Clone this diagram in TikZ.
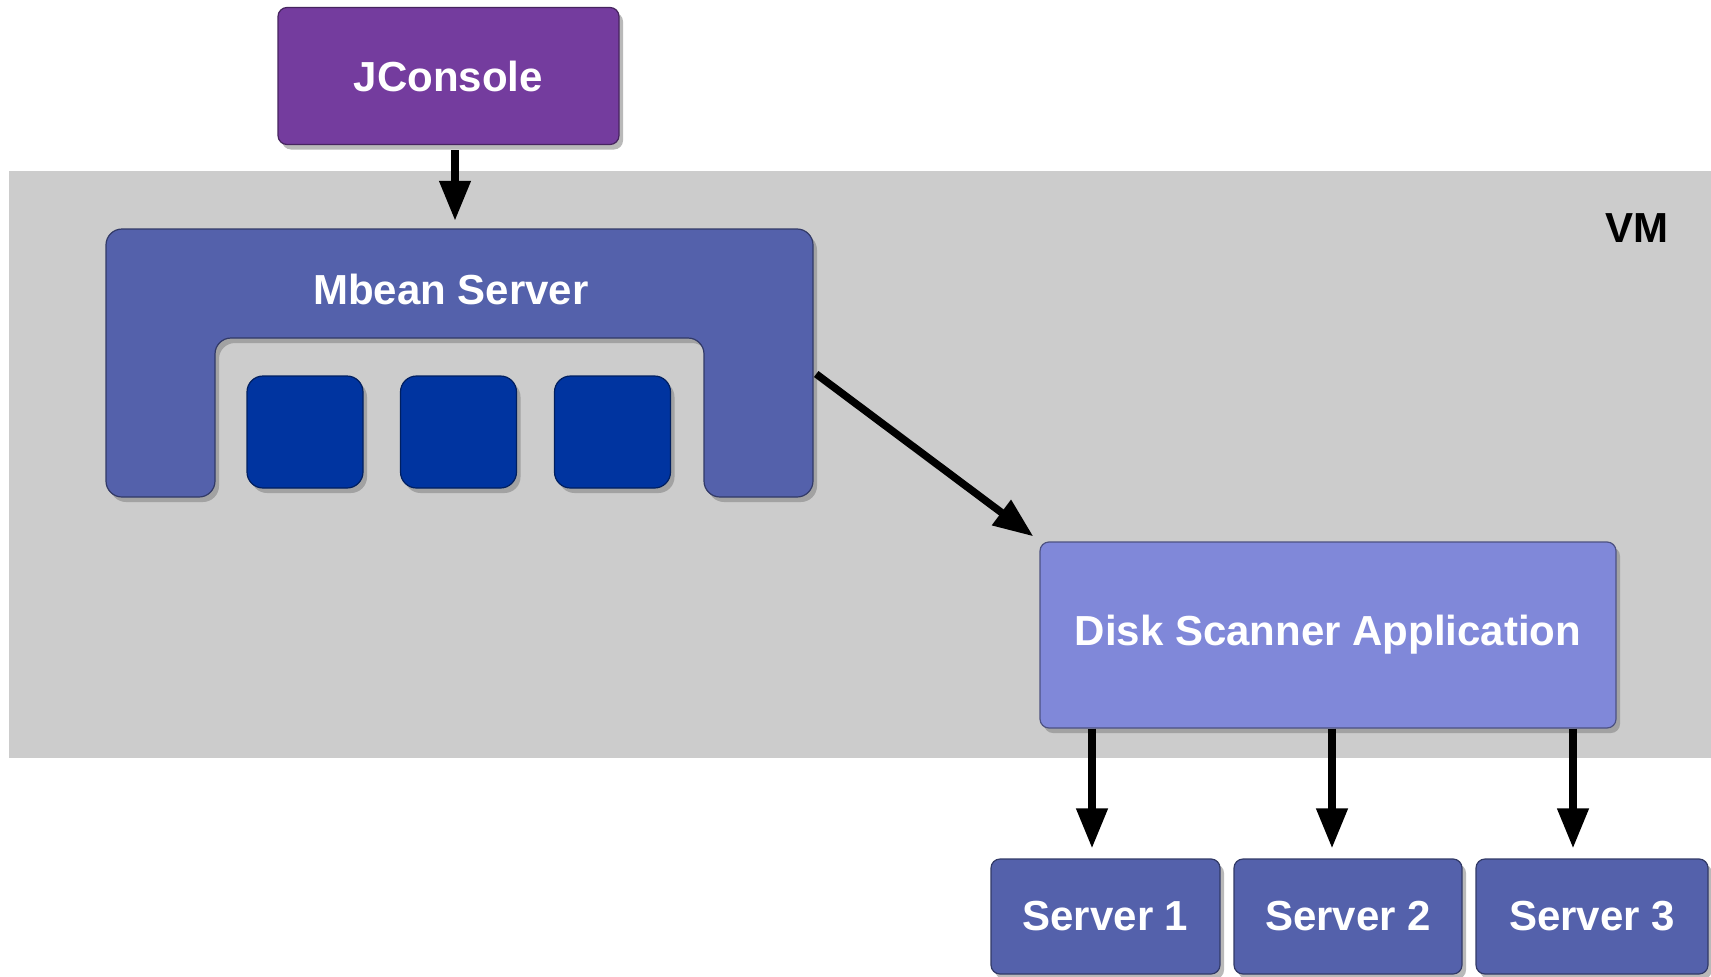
\documentclass[tikz,border=0pt]{standalone}
\usepackage{fontspec}
\setmainfont{Liberation Sans}
\usetikzlibrary{arrows.meta,shadows,calc}
\definecolor{vmgray}{HTML}{CCCCCC}
\definecolor{jcpurple}{HTML}{743C9E}
\definecolor{mbblue}{HTML}{5461AB}
\definecolor{mbdark}{HTML}{0034A0}
\definecolor{dsblue}{HTML}{8088D9}
\tikzset{
  shadowed/.style={drop shadow={opacity=0.55,shadow xshift=4pt,shadow yshift=-5pt}},
  boxbase/.style={shadowed,rounded corners=9pt,inner sep=0pt,font=\fontsize{42}{50}\selectfont\bfseries,text=white},
  jcbox/.style={boxbase,fill=jcpurple,draw=jcpurple!60!black,line width=1.2pt},
  srvbox/.style={boxbase,fill=mbblue,draw=mbblue!60!black,line width=1.2pt},
  dsbox/.style={boxbase,fill=dsblue,draw=dsblue!60!black,line width=1.2pt},
  beanbox/.style={shadowed,rounded corners=16pt,fill=mbdark,draw=mbdark!60!black,line width=1.2pt,inner sep=0pt,minimum width=116pt,minimum height=112pt},
  arr/.style={line width=7.5pt,-{Triangle[width=30pt,length=40pt]}},
}
\begin{document}
\begin{tikzpicture}[x=1pt,y=-1pt]
\useasboundingbox (0,0) rectangle (1711,977);
\fill[white] (0,0) rectangle (1711,977);
% VM region
\fill[vmgray] (9,171) rectangle (1711,758);
\node[font=\fontsize{42}{50}\selectfont\bfseries] (vm) at (1637,228) {VM};
% JConsole
\node[jcbox,minimum width=341pt,minimum height=137pt] (jc) at (448.5,76) {JConsole};
% Mbean server shape
\fill[mbblue,draw=mbblue!60!black,line width=1.2pt,shadowed,rounded corners=16pt]
  (106,497) -- (106,229) -- (813,229) -- (813,497) -- (704,497) -- (704,338) -- (215,338) -- (215,497) -- cycle;
\node[inner sep=0pt,minimum width=707pt,minimum height=268pt] (mbean) at (459.5,363) {};
\node[font=\fontsize{42}{50}\selectfont\bfseries,text=white] (mbtext) at (451,289) {Mbean Server};
\node[beanbox] (b1) at (305,432) {};
\node[beanbox] (b2) at (458.5,432) {};
\node[beanbox] (b3) at (612.5,432) {};
% Disk scanner
\node[dsbox,minimum width=576pt,minimum height=186pt] (disk) at (1328,635) {Disk Scanner Application};
% Servers
\node[srvbox,minimum width=229pt,minimum height=115pt] (s1) at (1105.5,916.5) {Server 1};
\node[srvbox,minimum width=228pt,minimum height=115pt] (s2) at (1348,916.5) {Server 2};
\node[srvbox,minimum width=232pt,minimum height=115pt] (s3) at (1592,916.5) {Server 3};
% connectors
\draw[arr] ([xshift=6.5pt,yshift=-5pt]jc.south) -- ([xshift=-4.5pt,yshift=8pt]mbean.north);
\draw[arr] ([xshift=3pt,yshift=-11pt]mbean.east) -- ([xshift=-6pt,yshift=5pt]disk.north west);
\draw[arr] ([xshift=-13.5pt]s1.north |- disk.south) -- ([xshift=-13.5pt,yshift=10pt]s1.north);
\draw[arr] ([xshift=-16pt]s2.north |- disk.south) -- ([xshift=-16pt,yshift=10pt]s2.north);
\draw[arr] ([xshift=-19pt]s3.north |- disk.south) -- ([xshift=-19pt,yshift=10pt]s3.north);
\end{tikzpicture}
\end{document}
